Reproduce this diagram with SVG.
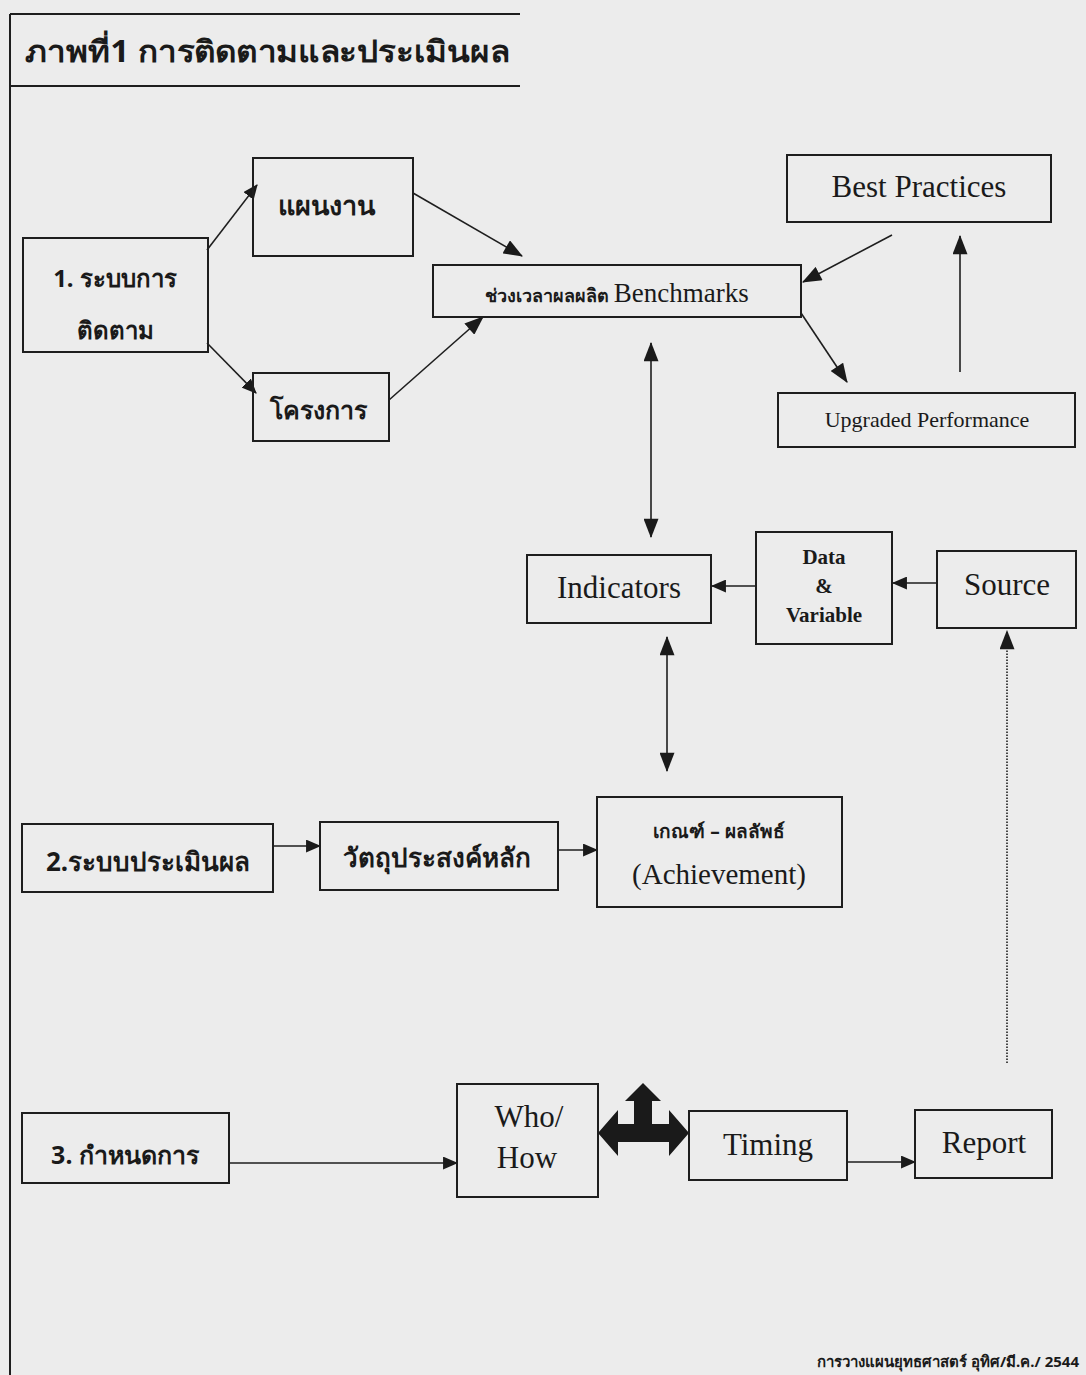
<svg xmlns="http://www.w3.org/2000/svg" width="1086" height="1375" viewBox="0 0 1086 1375">
<defs>
<marker id="ah" viewBox="0 0 18 14" refX="17" refY="7" markerWidth="20" markerHeight="15" markerUnits="userSpaceOnUse" orient="auto-start-reverse">
<path d="M0,0 L18,7 L0,14 z" fill="#1a1a1a"/>
</marker>
<marker id="ahs" viewBox="0 0 14 12" refX="13" refY="6" markerWidth="15" markerHeight="13" markerUnits="userSpaceOnUse" orient="auto-start-reverse">
<path d="M0,0 L14,6 L0,12 z" fill="#1a1a1a"/>
</marker>
</defs>
<style>
.box{fill:none;stroke:#1e1e1e;stroke-width:2}
.ln{fill:none;stroke:#1e1e1e;stroke-width:1.6}
.th{font-family:"Noto Sans","DejaVu Sans","Liberation Sans",sans-serif;font-weight:bold;fill:#1a1a1a}
.en{font-family:"Liberation Serif","Times New Roman",serif;fill:#1a1a1a}
</style>
<rect x="0" y="0" width="1086" height="1375" fill="#ececec"/>
<g id="frame">
<line class="box" x1="10" y1="14" x2="10" y2="1375"/>
<line class="box" x1="10" y1="14" x2="520" y2="14"/>
<line class="box" x1="10" y1="86" x2="520" y2="86"/>
<text class="th" x="25" y="62" font-size="30" textLength="485" lengthAdjust="spacingAndGlyphs">ภาพที่1  การติดตามและประเมินผล</text>
</g>
<g id="connectors">
<line class="ln" x1="207" y1="250" x2="257" y2="185" marker-end="url(#ahs)"/>
<line class="ln" x1="207" y1="343" x2="256" y2="393" marker-end="url(#ahs)"/>
<line class="ln" x1="413" y1="193" x2="522" y2="256" marker-end="url(#ah)"/>
<line class="ln" x1="389" y1="400" x2="483" y2="317" marker-end="url(#ah)"/>
<line class="ln" x1="892" y1="235" x2="803" y2="282" marker-end="url(#ah)"/>
<line class="ln" x1="801" y1="313" x2="847" y2="382" marker-end="url(#ah)"/>
<line class="ln" x1="960" y1="372" x2="960" y2="236" marker-end="url(#ah)"/>
<line class="ln" x1="651" y1="343" x2="651" y2="537" marker-start="url(#ah)" marker-end="url(#ah)"/>
<line class="ln" x1="756" y1="586" x2="712" y2="586" marker-end="url(#ahs)"/>
<line class="ln" x1="937" y1="583" x2="893" y2="583" marker-end="url(#ahs)"/>
<line class="ln" x1="667" y1="637" x2="667" y2="771" marker-start="url(#ah)" marker-end="url(#ah)"/>
<line class="ln" x1="1007" y1="1063" x2="1007" y2="631" stroke-dasharray="1.5 1.5" marker-end="url(#ah)"/>
<line class="ln" x1="273" y1="846" x2="320" y2="846" stroke-width="2.6" marker-end="url(#ahs)"/>
<line class="ln" x1="558" y1="850" x2="597" y2="850" stroke-width="2.6" marker-end="url(#ahs)"/>
<line class="ln" x1="229" y1="1163" x2="457" y2="1163" stroke-width="2.6" marker-end="url(#ahs)"/>
<line class="ln" x1="847" y1="1162" x2="915" y2="1162" stroke-width="2.6" marker-end="url(#ahs)"/>
<path d="M598,1133 L618,1110 L618,1124 L634,1124 L634,1101 L625,1101 L643,1083 L661,1101 L652,1101 L652,1124 L669,1124 L669,1110 L689,1133 L669,1156 L669,1142 L618,1142 L618,1156 Z" fill="#1a1a1a"/>
</g>
<g id="n1">
<rect class="box" x="23" y="238" width="185" height="114"/>
<text class="th" x="115" y="287" font-size="24" text-anchor="middle">1. ระบบการ</text>
<text class="th" x="115" y="339" font-size="24" text-anchor="middle">ติดตาม</text>
</g>
<g id="n-plan">
<rect class="box" x="253" y="158" width="160" height="98"/>
<text class="th" x="326" y="215" font-size="27" text-anchor="middle">แผนงาน</text>
</g>
<g id="n-project">
<rect class="box" x="253" y="373" width="136" height="68"/>
<text class="th" x="318" y="419" font-size="25" text-anchor="middle">โครงการ</text>
</g>
<g id="n-bench">
<rect class="box" x="433" y="265" width="368" height="52"/>
<text x="617" y="302" text-anchor="middle"><tspan class="th" font-size="18">ช่วงเวลาผลผลิต </tspan><tspan class="en" font-size="27">Benchmarks</tspan></text>
</g>
<g id="n-best">
<rect class="box" x="787" y="155" width="264" height="67"/>
<text class="en" x="919" y="197" font-size="31" text-anchor="middle">Best Practices</text>
</g>
<g id="n-upgraded">
<rect class="box" x="778" y="393" width="297" height="54"/>
<text class="en" x="927" y="427" font-size="22" text-anchor="middle">Upgraded Performance</text>
</g>
<g id="n-indicators">
<rect class="box" x="527" y="555" width="184" height="68"/>
<text class="en" x="619" y="598" font-size="31" text-anchor="middle">Indicators</text>
</g>
<g id="n-data">
<rect class="box" x="756" y="532" width="136" height="112"/>
<text class="en" x="824" y="564" font-size="21" font-weight="bold" text-anchor="middle">Data</text>
<text class="en" x="824" y="593" font-size="21" font-weight="bold" text-anchor="middle">&amp;</text>
<text class="en" x="824" y="622" font-size="21" font-weight="bold" text-anchor="middle">Variable</text>
</g>
<g id="n-source">
<rect class="box" x="937" y="551" width="139" height="77"/>
<text class="en" x="1007" y="595" font-size="31" text-anchor="middle">Source</text>
</g>
<g id="n-achievement">
<rect class="box" x="597" y="797" width="245" height="110"/>
<text class="th" x="719" y="838" font-size="19" text-anchor="middle">เกณฑ์ – ผลลัพธ์</text>
<text class="en" x="719" y="884" font-size="29" text-anchor="middle">(Achievement)</text>
</g>
<g id="n2">
<rect class="box" x="22" y="824" width="251" height="68"/>
<text class="th" x="148" y="871" font-size="26" text-anchor="middle">2.ระบบประเมินผล</text>
</g>
<g id="n-objective">
<rect class="box" x="320" y="822" width="238" height="68"/>
<text class="th" x="437" y="867" font-size="26" text-anchor="middle">วัตถุประสงค์หลัก</text>
</g>
<g id="n3">
<rect class="box" x="22" y="1113" width="207" height="70"/>
<text class="th" x="125" y="1164" font-size="25" text-anchor="middle">3. กำหนดการ</text>
</g>
<g id="n-who">
<rect class="box" x="457" y="1084" width="141" height="113"/>
<text class="en" x="529" y="1127" font-size="31" text-anchor="middle">Who/</text>
<text class="en" x="527" y="1168" font-size="31" text-anchor="middle">How</text>
</g>
<g id="n-timing">
<rect class="box" x="689" y="1111" width="158" height="69"/>
<text class="en" x="768" y="1155" font-size="31" text-anchor="middle">Timing</text>
</g>
<g id="n-report">
<rect class="box" x="915" y="1110" width="137" height="68"/>
<text class="en" x="984" y="1153" font-size="31" text-anchor="middle">Report</text>
</g>
<g id="footer">
<text class="th" x="1079" y="1367" font-size="15" text-anchor="end">การวางแผนยุทธศาสตร์ อุทิศ/มี.ค./ 2544</text>
</g>
</svg>
